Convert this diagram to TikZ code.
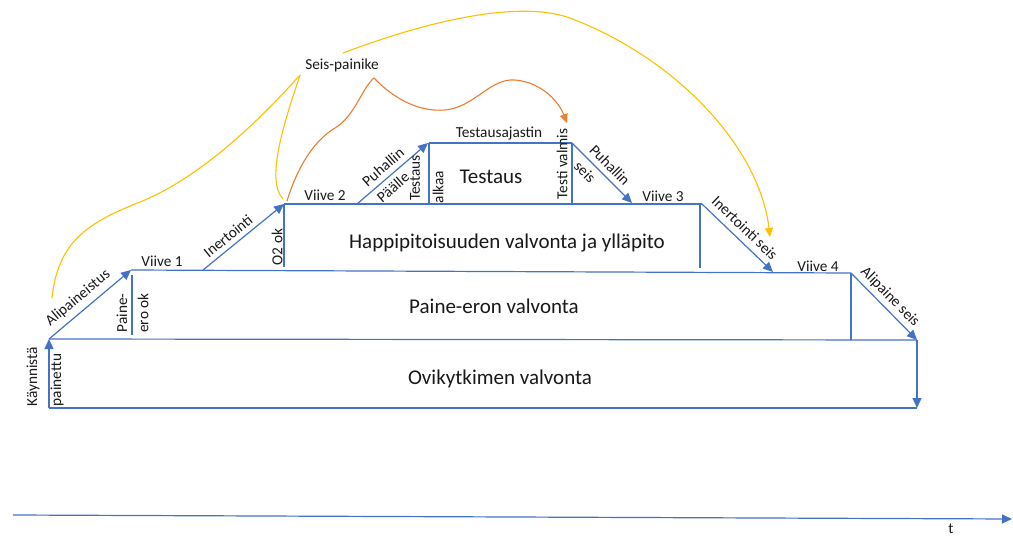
\documentclass[tikz,border=0pt]{standalone}
\usepackage{fontspec}
\setmainfont{Carlito}
\usetikzlibrary{arrows.meta}
\definecolor{obl}{HTML}{4472C4}
\definecolor{oye}{HTML}{FFC000}
\definecolor{oor}{HTML}{ED7D31}
\begin{document}
\begin{tikzpicture}[x=1pt,y=-1pt,
  flow/.style={draw=obl, line width=1.2pt},
  flowarr/.style={flow, -{Triangle[length=10pt,width=9pt]}},
  ycurve/.style={draw=oye, line width=1.1pt},
  ocurve/.style={draw=oor, line width=1.1pt},
  ctip/.style={-{Triangle[length=9pt,width=8pt]}},
  small/.style={font=\fontsize{15.3}{18}\selectfont, inner sep=0pt, text=black!90},
  big/.style={font=\fontsize{21}{25}\selectfont, inner sep=0pt, text=black!90}]
\useasboundingbox[fill=white] (0,0) rectangle (1013,536);

% corner points
\coordinate (k0) at (49,408);
\coordinate (k1) at (49,339);
\coordinate (r1) at (917,340);
\coordinate (r0) at (917,408);
\coordinate (p1) at (131,270);
\coordinate (q2) at (851,273);
\coordinate (q2b) at (851,340);
\coordinate (pv0) at (132,275);
\coordinate (pv1) at (132,335);
\coordinate (i0) at (203,270);
\coordinate (o1) at (284,204);
\coordinate (ov) at (284,267);
\coordinate (h1) at (702,204);
\coordinate (hv0) at (700,204);
\coordinate (hv1) at (700,268);
\coordinate (is1) at (773,272);
\coordinate (u0) at (357,204);
\coordinate (u1) at (428,143);
\coordinate (t0) at (429,143);
\coordinate (t1) at (572,143);
\coordinate (tv0) at (429,204);
\coordinate (tv1) at (572,204);
\coordinate (s1) at (632,203);
\coordinate (ax0) at (13,515);
\coordinate (ax1) at (1012,519);

% blue flow
\draw[flow] (k0) -- (r0);
\draw[flowarr] (k0) -- (k1);
\draw[flow] (k1) -- (r1);
\draw[flowarr] (r1) -- (r0);
\draw[flowarr] (k1) -- (p1);
\draw[flow] (p1) -- (q2);
\draw[flow] (pv0) -- (pv1);
\draw[flow] (q2) -- (q2b);
\draw[flowarr] (q2) -- (r1);
\draw[flowarr] (i0) -- (o1);
\draw[flow] (o1) -- (h1);
\draw[flow] (o1) -- (ov);
\draw[flow] (hv0) -- (hv1);
\draw[flowarr] (h1) -- (is1);
\draw[flowarr] (u0) -- (u1);
\draw[flow] (t0) -- (t1);
\draw[flow] (t0) -- (tv0);
\draw[flow] (t1) -- (tv1);
\draw[flowarr] (t1) -- (s1);
\draw[flowarr] (ax0) -- (ax1);

% stop button and curves
\node[small] (seis) at (342,65) {Seis-painike};
\coordinate (ya0) at (52,298);
\coordinate (sp1) at (300,75);
\coordinate (sp2) at (374,78);
\coordinate (sp3) at (343,53);
\coordinate (yb1) at (283,199);
\coordinate (oa0) at (287,201);
\coordinate (tvtip) at (567,123);
\coordinate (istip) at (770,237);

\draw[ycurve] (ya0) .. controls (58,240) and (90,222) .. (140,202)
  .. controls (200,178) and (260,120) .. (sp1);
\draw[ycurve] (sp1) .. controls (285,120) and (265,180) .. (yb1);
\draw[ocurve] (oa0) .. controls (298,165) and (315,140) .. (335,128)
  .. controls (355,116) and (362,88) .. (sp2);
\draw[ocurve, ctip] (sp2) .. controls (395,100) and (420,112) .. (445,110)
  .. controls (475,107) and (490,78) .. (515,80)
  .. controls (540,82) and (558,100) .. (tvtip);
\draw[ycurve, ctip] (sp3) .. controls (430,20) and (520,0) .. (570,18)
  .. controls (680,60) and (760,150) .. (istip);

% horizontal labels
\node[small] (v1) at (162,261) {Viive 1};
\node[small] (v2) at (325,195) {Viive 2};
\node[small] (v3) at (663,196) {Viive 3};
\node[small] (v4) at (818,266) {Viive 4};
\node[small] (ta) at (499,134) {Testausajastin};
\node[big] (tst) at (491,177) {Testaus};
\node[big] (hap) at (507,243) {Happipitoisuuden valvonta ja ylläpito};
\node[big] (pai) at (494,306) {Paine-eron valvonta};
\node[big] (ovi) at (500,379) {Ovikytkimen valvonta};
\node[small] (tt) at (951,529) {t};

% sloped labels
\node[small, rotate=39.7] (lali) at (78,298) {Alipaineistus};
\node[small, rotate=39.2] (line) at (228,236) {Inertointi};
\node[small, rotate=40.7] (lpu1) at (383,167) {Puhallin};
\node[small, rotate=40.7] (lpu2) at (393,187) {Päälle};
\node[small, rotate=-45] (lps1) at (610,165) {Puhallin};
\node[small, rotate=-45] (lps2) at (585,172) {seis};
\node[small, rotate=-43.8] (lis) at (745,228) {Inertointi seis};
\node[small, rotate=-45.4] (las) at (890,297) {Alipaine seis};

% vertical labels
\node[small, rotate=90] (lk1) at (33,377) {Käynnistä};
\node[small, rotate=90] (lk2) at (57,380) {painettu};
\node[small, rotate=90] (lpe1) at (122,313) {Paine-};
\node[small, rotate=90] (lpe2) at (143,313) {ero ok};
\node[small, rotate=90] (lo2) at (277,247) {O2 ok};
\node[small, rotate=90] (lta1) at (415,178) {Testaus};
\node[small, rotate=90] (lta2) at (438,187) {alkaa};
\node[small, rotate=90] (ltv) at (562,164) {Testi valmis};
\end{tikzpicture}
\end{document}
